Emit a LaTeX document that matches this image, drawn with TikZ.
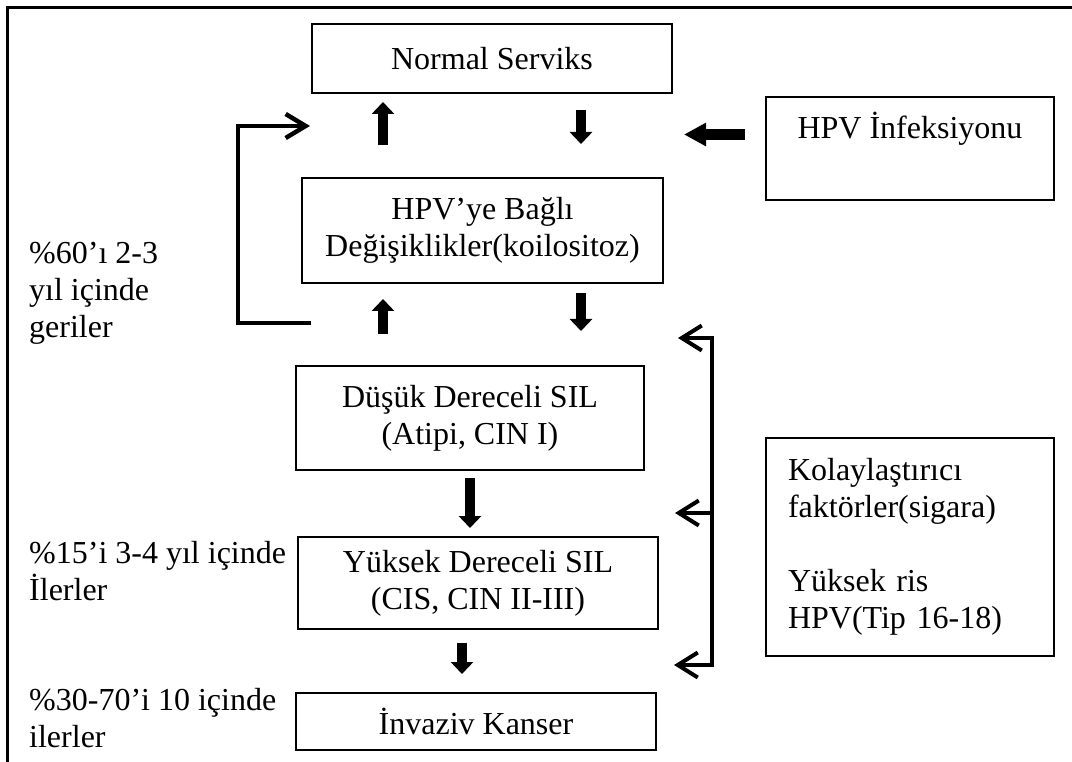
\documentclass[tikz,border=0pt]{standalone}
\usepackage{fontspec}
\setmainfont{Liberation Serif}
\usepackage{tikz}
\usetikzlibrary{arrows.meta}
\usetikzlibrary{calc}
\usetikzlibrary{positioning}

\begin{document}
\begin{tikzpicture}[x=1pt,y=-1pt,every node/.style={font=\fontsize{32}{37}\selectfont}]
 \tikzstyle{kutu}=[draw, line width=2pt, inner sep=0pt, align=center]
 \tikzstyle{yazi}=[anchor=west, inner sep=0pt, align=left]
 \tikzstyle{blok}=[line width=10pt, -{Triangle[width=22pt,length=12pt]}]
 \tikzstyle{geri}=[line width=4.5pt, -{Straight Barb[length=20pt,width=24pt]}]
 \tikzstyle{ince}=[line width=4pt]
 \tikzstyle{incok}=[line width=4pt, -{Straight Barb[length=20pt,width=25pt]}]
 \useasboundingbox (0,0) rectangle (1072,762);
 % cerceve
 \draw[line width=3pt] (7.5,762) -- (7.5,7.5) -- (1072,7.5);
 % kutular
 \node[kutu, minimum width=360pt, minimum height=69pt]  (normal)  at (492,58.5)  {Normal Serviks};
 \node[kutu, minimum width=288pt, minimum height=103pt] (hpv)     at (910,148.5) {HPV İnfeksiyonu\\[10pt]\mbox{}};
 \node[kutu, minimum width=361pt, minimum height=105pt] (degisik) at (482.5,230.5) {HPV’ye Bağlı\\Değişiklikler(koilositoz)};
 \node[kutu, minimum width=348pt, minimum height=104pt] (dusuk)   at (470,418)   {Düşük Dereceli SIL\\(Atipi, CIN I)};
 \node[kutu, minimum width=360pt, minimum height=92pt]  (yuksek)  at (478,583)   {Yüksek Dereceli SIL\\(CIS, CIN II-III)};
 \node[kutu, minimum width=360pt, minimum height=57pt]  (kanser)  at (476,721.5) {İnvaziv Kanser};
 \node[kutu, minimum width=288pt, minimum height=218pt, text width=244pt, align=left] (kolay) at (910,547)
      {Kolaylaştırıcı\\faktörler(sigara)\\[37pt]Yüksek ris\\HPV(Tip 16-18)};
 % sol yazilar
 \node[yazi] (gerile)  at (29,293) {\%60’ı 2-3\\yıl içinde\\geriler};
 \node[yazi] (ilerle)  at (29,571) {\%15’i 3-4 yıl içinde\\İlerler};
 \node[yazi] (ilerle2) at (29,718) {\%30-70’i 10 içinde\\ilerler};
 % ok sutunlari
 \coordinate (solok) at (383,0);
 \coordinate (sagok) at (581,0);
 \coordinate (altok) at (462,0);
 \coordinate (hpvok) at (0,134.5);
 \draw[blok, shorten <=32pt, shorten >=8pt]  (degisik.north -| solok) -- (normal.south -| solok);
 \draw[blok, shorten <=16pt, shorten >=33pt] (normal.south -| sagok) -- (degisik.north -| sagok);
 \draw[line width=11pt, -{Triangle[width=22pt,length=22pt]}, shorten <=20pt, shorten >=11pt]
      (hpv.west |- hpvok) -- (normal.east |- hpvok);
 \draw[blok, shorten <=31pt, shorten >=15pt] (dusuk.north -| solok) -- (degisik.south -| solok);
 \draw[blok, shorten <=9pt, shorten >=34pt]  (degisik.south -| sagok) -- (dusuk.north -| sagok);
 \draw[blok, shorten <=7pt, shorten >=8pt]   (dusuk.south) -- (yuksek.north -| dusuk.south);
 \draw[blok, shorten <=13pt, shorten >=18pt] (yuksek.south -| altok) -- (kanser.north -| altok);
 % geri donus
 \draw[geri] ([xshift=10pt,yshift=-39pt]degisik.south west) -- ++(-73,0) |- ([xshift=-1pt,yshift=-32pt]normal.south west);
 % kolaylastirici faktorler
 \coordinate (kust) at (712,338);
 \coordinate (korta) at (712,513);
 \coordinate (kalt) at (712,665);
 \draw[ince] ([yshift=2pt]kust) -- ([yshift=-2pt]kalt);
 \draw[incok, shorten >=33pt] (kust) -- (kust -| dusuk.east);
 \draw[incok, shorten >=30pt] (korta) -- (korta -| dusuk.east);
 \draw[incok, shorten >=15pt] (kalt) -- (kalt -| yuksek.east);
\end{tikzpicture}
\end{document}
